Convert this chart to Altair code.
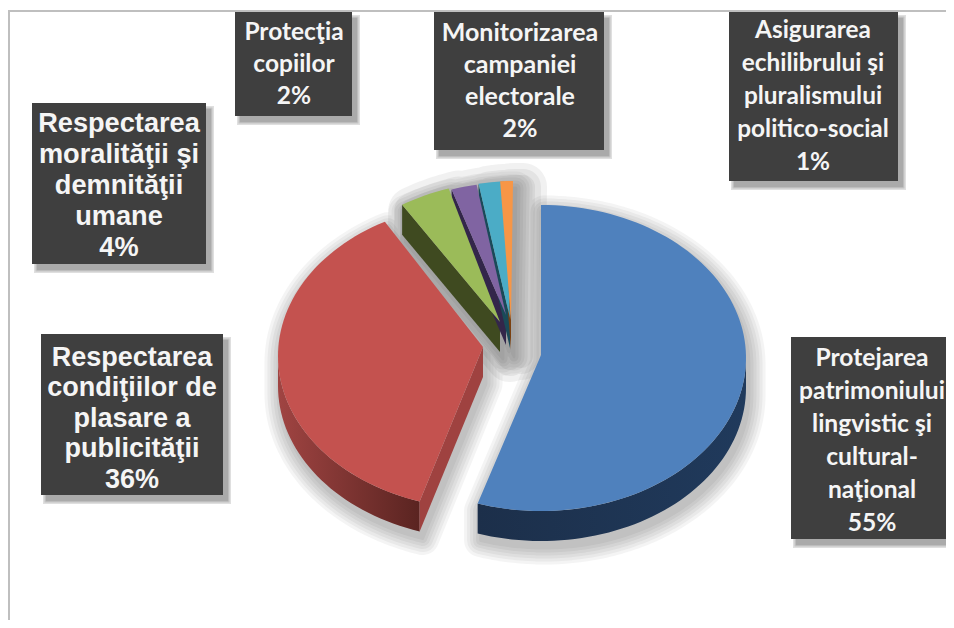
import math
import altair as alt
import pandas as pd

# ---- data ----
categories = [
    "Protejarea\npatrimoniului\nlingvistic şi\ncultural-\nnaţional",
    "Respectarea\ncondiţiilor de\nplasare a\npublicităţii",
    "Respectarea\nmoralităţii şi\ndemnităţii\numane",
    "Protecţia\ncopiilor",
    "Monitorizarea\ncampaniei\nelectorale",
    "Asigurarea\nechilibrului şi\npluralismului\npolitico-social",
]
shares = [55, 36, 4, 2, 2, 1]

# ---- styling / layout (page pixels, separate from data) ----
OFF = 8
VIEW_W, VIEW_H = 938, 612
RX, RY, THICK = 205, 153, 30
top_colors = ["#4f81bd", "#c4524f", "#9bbb59", "#8064a2", "#4bacc6", "#f79646"]
cut_colors = [None, "#9f4240", None, None, None, None]
slice_wall = ["#1f3552", None, "#3f4a20", "#33264a", "#1a4a58", "#7a4010"]
rim_center = [(541, 358), (483, 356), (512, 334), (515, 335), (517, 334), (513, 334)]
apex = [(541, 355), (483, 347), (500, 322), (506, 315), (510, 318), (511, 320)]
end_nudge = [0, 3.8, 0, 0, 0, 0]  # foreshortening of the tilted view
boxes = [(791, 337, 946, 539), (41, 334, 223, 495), (32, 103, 206, 264),
         (235, 12, 352, 116), (434, 12, 604, 150), (729, 12, 898, 181)]
text_cx = [872, 132, 119, 294, 520, 813]
text_dy = [3.5, 4, 2, 1, 0, 0]
fonts = [("Lato", 24.6, 33), ("Liberation Sans", 27, 30.5), ("Liberation Sans", 27.2, 31),
         ("Lato", 24.5, 32), ("Lato", 25, 32), ("Lato", 24.4, 33)]


def pt(c, deg, dy=0):
    r = math.radians(deg)
    return [c[0] + RX * math.sin(r) - OFF, c[1] - RY * math.cos(r) + dy - OFF]


def arc(c, a, b, dy=0):
    n = max(2, int(abs(b - a) / 2) + 1)
    return [pt(c, a + (b - a) * i / n, dy) for i in range(n + 1)]


def ring(points):
    return [[list(p) for p in points] + [list(points[0])]]


def shifted(p, dx=0, dy=0):
    return [p[0] + dx, p[1] + dy]


def feature(polys):
    return {"type": "Feature", "properties": {},
            "geometry": {"type": "MultiPolygon", "coordinates": polys}}


def geo(polys, **mark):
    return alt.Chart(alt.Data(values=[feature(polys)])).mark_geoshape(**mark).project(
        type="identity", scale=1, translate=[0, 0])


def h_grad(c1, c2):
    return alt.Gradient(gradient="linear", x1=0, x2=1, y1=0, y2=0,
                        stops=[alt.GradientStop(color=c1, offset=0),
                               alt.GradientStop(color=c2, offset=1)])


tops, walls, shadow_polys, small_polys = [], [], [], []
start = 0.0
total = sum(shares)
for i, v in enumerate(shares):
    end = start + v / total * 360
    c = rim_center[i]
    ap = shifted(apex[i], -OFF, -OFF)
    rim = arc(c, start, end + end_nudge[i])
    top = [ap] + rim
    tops.append(geo([ring(top)], fill=top_colors[i]))
    outline = [ring(top)]
    if i == 0:
        lo = arc(c, 90, end)
        wall = lo + [shifted(p, 0, THICK) for p in reversed(lo)]
        walls.append(geo([ring(wall)], fill=h_grad("#1c2f4a", "#203a5c")))
        outline.append(ring(wall))
    elif i == 1:
        lo = arc(c, start, 270)
        wall = lo + [shifted(p, 0, THICK) for p in reversed(lo)]
        walls.append(geo([ring(wall)], fill=h_grad("#a04442", "#5a2421")))
        e0 = pt(c, start)
        cut = [ap, e0, shifted(e0, 0, THICK), shifted(ap, 0, THICK)]
        walls.append(geo([ring(cut)], fill=cut_colors[i]))
        outline += [ring(wall), ring(cut)]
    else:
        e0 = pt(c, start)
        cut = [e0, ap, shifted(ap, 0, THICK), shifted(e0, 0, THICK)]
        walls.append(geo([ring(cut)], fill=slice_wall[i]))
        outline.append(ring(cut))
        small_polys += outline
    shadow_polys += outline
    start = end

shadow_shift = [[[shifted(p, 3, 7) for p in r] for r in poly] for poly in shadow_polys]
shadows = [geo(shadow_shift, fill="#000000", stroke="#000000", strokeWidth=w,
               strokeJoin="round", opacity=0.04)
           for w in (3, 9, 15, 21, 27, 33)]
small_shift = [[[shifted(p, 10, 6) for p in r] for r in poly] for poly in small_polys]
shadows += [geo(small_shift, fill="#000000", stroke="#000000", strokeWidth=w,
                strokeJoin="round", opacity=0.05)
            for w in (24, 36, 48)]

# frame
frame_df = pd.DataFrame({"x": [0], "x2": [VIEW_W], "y": [3]})
frame_top = alt.Chart(frame_df).mark_rule(color="#bfbfbf", strokeWidth=2).encode(
    x=alt.X("x:Q", scale=None), x2="x2:Q", y=alt.Y("y:Q", scale=None))
frame_left_df = pd.DataFrame({"x": [1], "y": [3], "y2": [VIEW_H]})
frame_left = alt.Chart(frame_left_df).mark_rule(color="#bfbfbf", strokeWidth=2).encode(
    x=alt.X("x:Q", scale=None), y=alt.Y("y:Q", scale=None), y2="y2:Q")

# label boxes
labels = [f"{c}\n{s}%" for c, s in zip(categories, shares)]
box_df = pd.DataFrame({
    "x": [b[0] - OFF for b in boxes], "x2": [b[2] - OFF for b in boxes],
    "y": [b[1] - OFF for b in boxes], "y2": [b[3] - OFF for b in boxes],
})
box_enc = dict(x=alt.X("x:Q", scale=None), x2="x2:Q", y=alt.Y("y:Q", scale=None), y2="y2:Q")
sh_df = box_df.assign(x=box_df.x + 5, x2=(box_df.x2 + 5).clip(upper=VIEW_W),
                      y=box_df.y + 6, y2=box_df.y2 + 6)
box_shadows = [alt.Chart(sh_df).mark_rect(color="#000000", stroke="#000000", strokeWidth=w,
                                          opacity=0.12).encode(**box_enc)
               for w in (0.5, 3, 6)]
box_marks = alt.Chart(box_df).mark_rect(color="#3f3f3f").encode(**box_enc)

texts = []
for lab, b, cx, ddy, (font, size, lh) in zip(labels, boxes, text_cx, text_dy, fonts):
    n = lab.count("\n") + 1
    df = pd.DataFrame({"t": [lab], "x": [cx - OFF],
                       "y": [(b[1] + b[3]) / 2 - OFF - (n - 1) * lh / 2 + ddy]})
    texts.append(alt.Chart(df).mark_text(
        font=font, fontSize=size, fontWeight="bold", color="#f5f5f5",
        lineBreak="\n", lineHeight=lh, align="center", baseline="middle",
    ).encode(x=alt.X("x:Q", scale=None), y=alt.Y("y:Q", scale=None), text="t:N"))

chart = alt.layer(frame_top, frame_left, *shadows, *walls, *tops,
                  *box_shadows, box_marks, *texts).properties(
    width=VIEW_W, height=VIEW_H, padding=0, background="#ffffff",
    autosize=alt.AutoSizeParams(type="none"),
).configure_view(stroke=None)

chart.save("out.html", embed_options={"renderer": "svg", "actions": False})
